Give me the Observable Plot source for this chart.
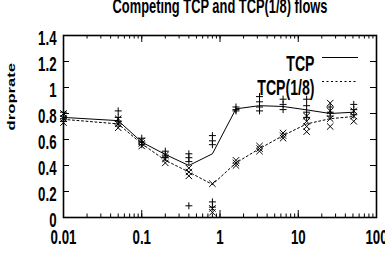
<!DOCTYPE html>
<html>
<head>
<meta charset="utf-8">
<script src="https://cdn.jsdelivr.net/npm/d3@7"></script>
<script src="https://cdn.jsdelivr.net/npm/@observablehq/plot@0.6"></script>
<style>
  html, body { margin: 0; padding: 0; background: #fff; }
  svg { display: block; }
</style>
</head>
<body>
<div id="chart"></div>
<script>
const title = "Competing TCP and TCP(1/8) flows";
const yLabel = "droprate";
const seriesNames = ["TCP", "TCP(1/8)"];
const xValues = [0.01, 0.05, 0.1, 0.2, 0.4, 0.8, 1.6, 3.2, 6.4, 12.8, 25.6, 51.2];
const tcpMean = [0.77, 0.745, 0.58, 0.485, 0.40, 0.49, 0.836, 0.86, 0.854, 0.828, 0.80, 0.81];
const tcp8Mean = [0.755, 0.72, 0.567, 0.44, 0.35, 0.254, 0.42, 0.53, 0.63, 0.72, 0.76, 0.777];
const tcpRuns = [
  [0.81, 0.78, 0.76, 0.74], [0.82, 0.77, 0.74, 0.72], [0.61, 0.58, 0.56], [0.51, 0.48, 0.46],
  [0.49, 0.46, 0.43, 0.09], [0.63, 0.59, 0.56, 0.12, 0.08], [0.85, 0.83, 0.82], [0.93, 0.89, 0.85, 0.82],
  [0.91, 0.87, 0.83], [0.91, 0.86, 0.81, 0.77], [0.85, 0.81, 0.78], [0.87, 0.83, 0.79]
];
const tcp8Runs = [
  [0.80, 0.76, 0.73], [0.76, 0.72, 0.69], [0.59, 0.57, 0.55], [0.48, 0.45, 0.42],
  [0.38, 0.35, 0.32], [0.26, 0.07, 0.04], [0.44, 0.42, 0.40], [0.55, 0.53, 0.51],
  [0.65, 0.63, 0.61], [0.78, 0.74, 0.70, 0.66], [0.88, 0.82, 0.76, 0.70], [0.82, 0.78, 0.74]
];
const xTicks = [0.01, 0.1, 1, 10, 100];
const xTickLabels = ["0.01", "0.1", "1", "10", "100"];
const yTicks = [0, 0.2, 0.4, 0.6, 0.8, 1, 1.2, 1.4];
const yTickLabels = ["0", "0.2", "0.4", "0.6", "0.8", "1", "1.2", "1.4"];

const W = 385, H = 274;
const mL = 63, mR = 9, mT = 35, mB = 57;
const pw = W - mL - mR, ph = H - mT - mB;
const FONT = "'Liberation Sans', Arial, sans-serif";

const lineTcp = xValues.map((x, i) => ({x, y: tcpMean[i]}));
const lineTcp8 = xValues.map((x, i) => ({x, y: tcp8Mean[i]}));
const ptsTcp = xValues.flatMap((x, i) => tcpRuns[i].map(y => ({x, y})));
const ptsTcp8 = xValues.flatMap((x, i) => tcp8Runs[i].map(y => ({x, y})));

const plusSym = {draw(ctx, size) { const h = Math.sqrt(size / Math.PI); ctx.moveTo(-h, 0); ctx.lineTo(h, 0); ctx.moveTo(0, -h); ctx.lineTo(0, h); }};
const crossSym = {draw(ctx, size) { const h = Math.sqrt(size / Math.PI); ctx.moveTo(-h, -h); ctx.lineTo(h, h); ctx.moveTo(-h, h); ctx.lineTo(h, -h); }};

const xMinor = d3.scaleLog().domain([0.01, 100]).ticks();

const chart = Plot.plot({
  width: W, height: H,
  marginLeft: mL, marginRight: mR, marginTop: mT, marginBottom: mB,
  style: {fontFamily: FONT, fontWeight: "bold", color: "black", background: "white"},
  x: {type: "log", domain: [0.01, 100], axis: null},
  y: {domain: [0, 1.4], axis: null},
  marks: [
    Plot.tickX(xMinor, {x: d => d, insetTop: ph - 3.5, stroke: "black"}),
    Plot.tickX(xMinor, {x: d => d, insetBottom: ph - 3.5, stroke: "black"}),
    Plot.tickX(xTicks, {x: d => d, insetTop: ph - 7, stroke: "black"}),
    Plot.tickX(xTicks, {x: d => d, insetBottom: ph - 7, stroke: "black"}),
    Plot.tickY(yTicks, {y: d => d, insetRight: pw - 6, stroke: "black"}),
    Plot.tickY(yTicks, {y: d => d, insetLeft: pw - 6, stroke: "black"}),
    Plot.line(lineTcp, {x: "x", y: "y", stroke: "black", strokeWidth: 1}),
    Plot.line(lineTcp8, {x: "x", y: "y", stroke: "black", strokeWidth: 1, strokeDasharray: "2,2.5"}),
    Plot.dot(ptsTcp, {x: "x", y: "y", symbol: plusSym, r: 3.5, stroke: "black", fill: "none", strokeWidth: 1}),
    Plot.dot(ptsTcp8, {x: "x", y: "y", symbol: crossSym, r: 3.2, stroke: "black", fill: "none", strokeWidth: 1}),
    Plot.frame({stroke: "black", strokeWidth: 1.6}),
    Plot.text(xTicks, {x: d => d, text: (d, i) => xTickLabels[i], frameAnchor: "bottom", dy: 25, fontSize: 16, fontWeight: "bold", fill: "black"}),
    Plot.text(yTicks, {y: d => d, text: (d, i) => yTickLabels[i], frameAnchor: "left", dx: -7, dy: 3, textAnchor: "end", fontSize: 16, fontWeight: "bold", fill: "black"}),
    Plot.text([yLabel], {text: d => d, frameAnchor: "left", dx: -52, dy: -3.5, rotate: -90, fontSize: 13, fontWeight: "bold", fill: "black"}),
    Plot.text([title], {text: d => d, frameAnchor: "top", dy: -24, lineAnchor: "bottom", fontSize: 15.5, fontWeight: "bold", fill: "black"}),
    Plot.text([seriesNames[0]], {text: d => d, frameAnchor: "top-right", dx: -62, dy: 22, textAnchor: "end", fontSize: 17, fontWeight: "bold", fill: "black"}),
    Plot.text([seriesNames[1]], {text: d => d, frameAnchor: "top-right", dx: -62, dy: 46, textAnchor: "end", fontSize: 17, fontWeight: "bold", fill: "black"}),
    Plot.ruleY([1.4], {y: d => d, dy: 22, insetLeft: 322 - mL, insetRight: (W - mR) - 358, stroke: "black", strokeWidth: 1}),
    Plot.ruleY([1.4], {y: d => d, dy: 46, insetLeft: 322 - mL, insetRight: (W - mR) - 358, stroke: "black", strokeWidth: 1, strokeDasharray: "2,2.5"})
  ]
});
document.getElementById("chart").appendChild(chart);

// Mimic the original's narrow, tall glyphs: squeeze on screen-x, stretch on screen-y
const SX = 0.83, SY = 1.28;
chart.querySelectorAll("text").forEach(t => {
  const b = t.getBBox();
  const tr = t.getAttribute("transform") || "";
  const cy = b.y + b.height / 2;
  if (/rotate/.test(tr)) {
    const cx = b.x + b.width / 2;
    t.setAttribute("transform", `${tr} translate(${cx},${cy}) scale(${SY},${SX}) translate(${-cx},${-cy})`);
  } else {
    const anchor = getComputedStyle(t).textAnchor;
    const ax = anchor === "end" ? b.x + b.width : anchor === "start" ? b.x : b.x + b.width / 2;
    t.setAttribute("transform", `${tr} translate(${ax},${cy}) scale(${SX},${SY}) translate(${-ax},${-cy})`);
  }
});
</script>
</body>
</html>
